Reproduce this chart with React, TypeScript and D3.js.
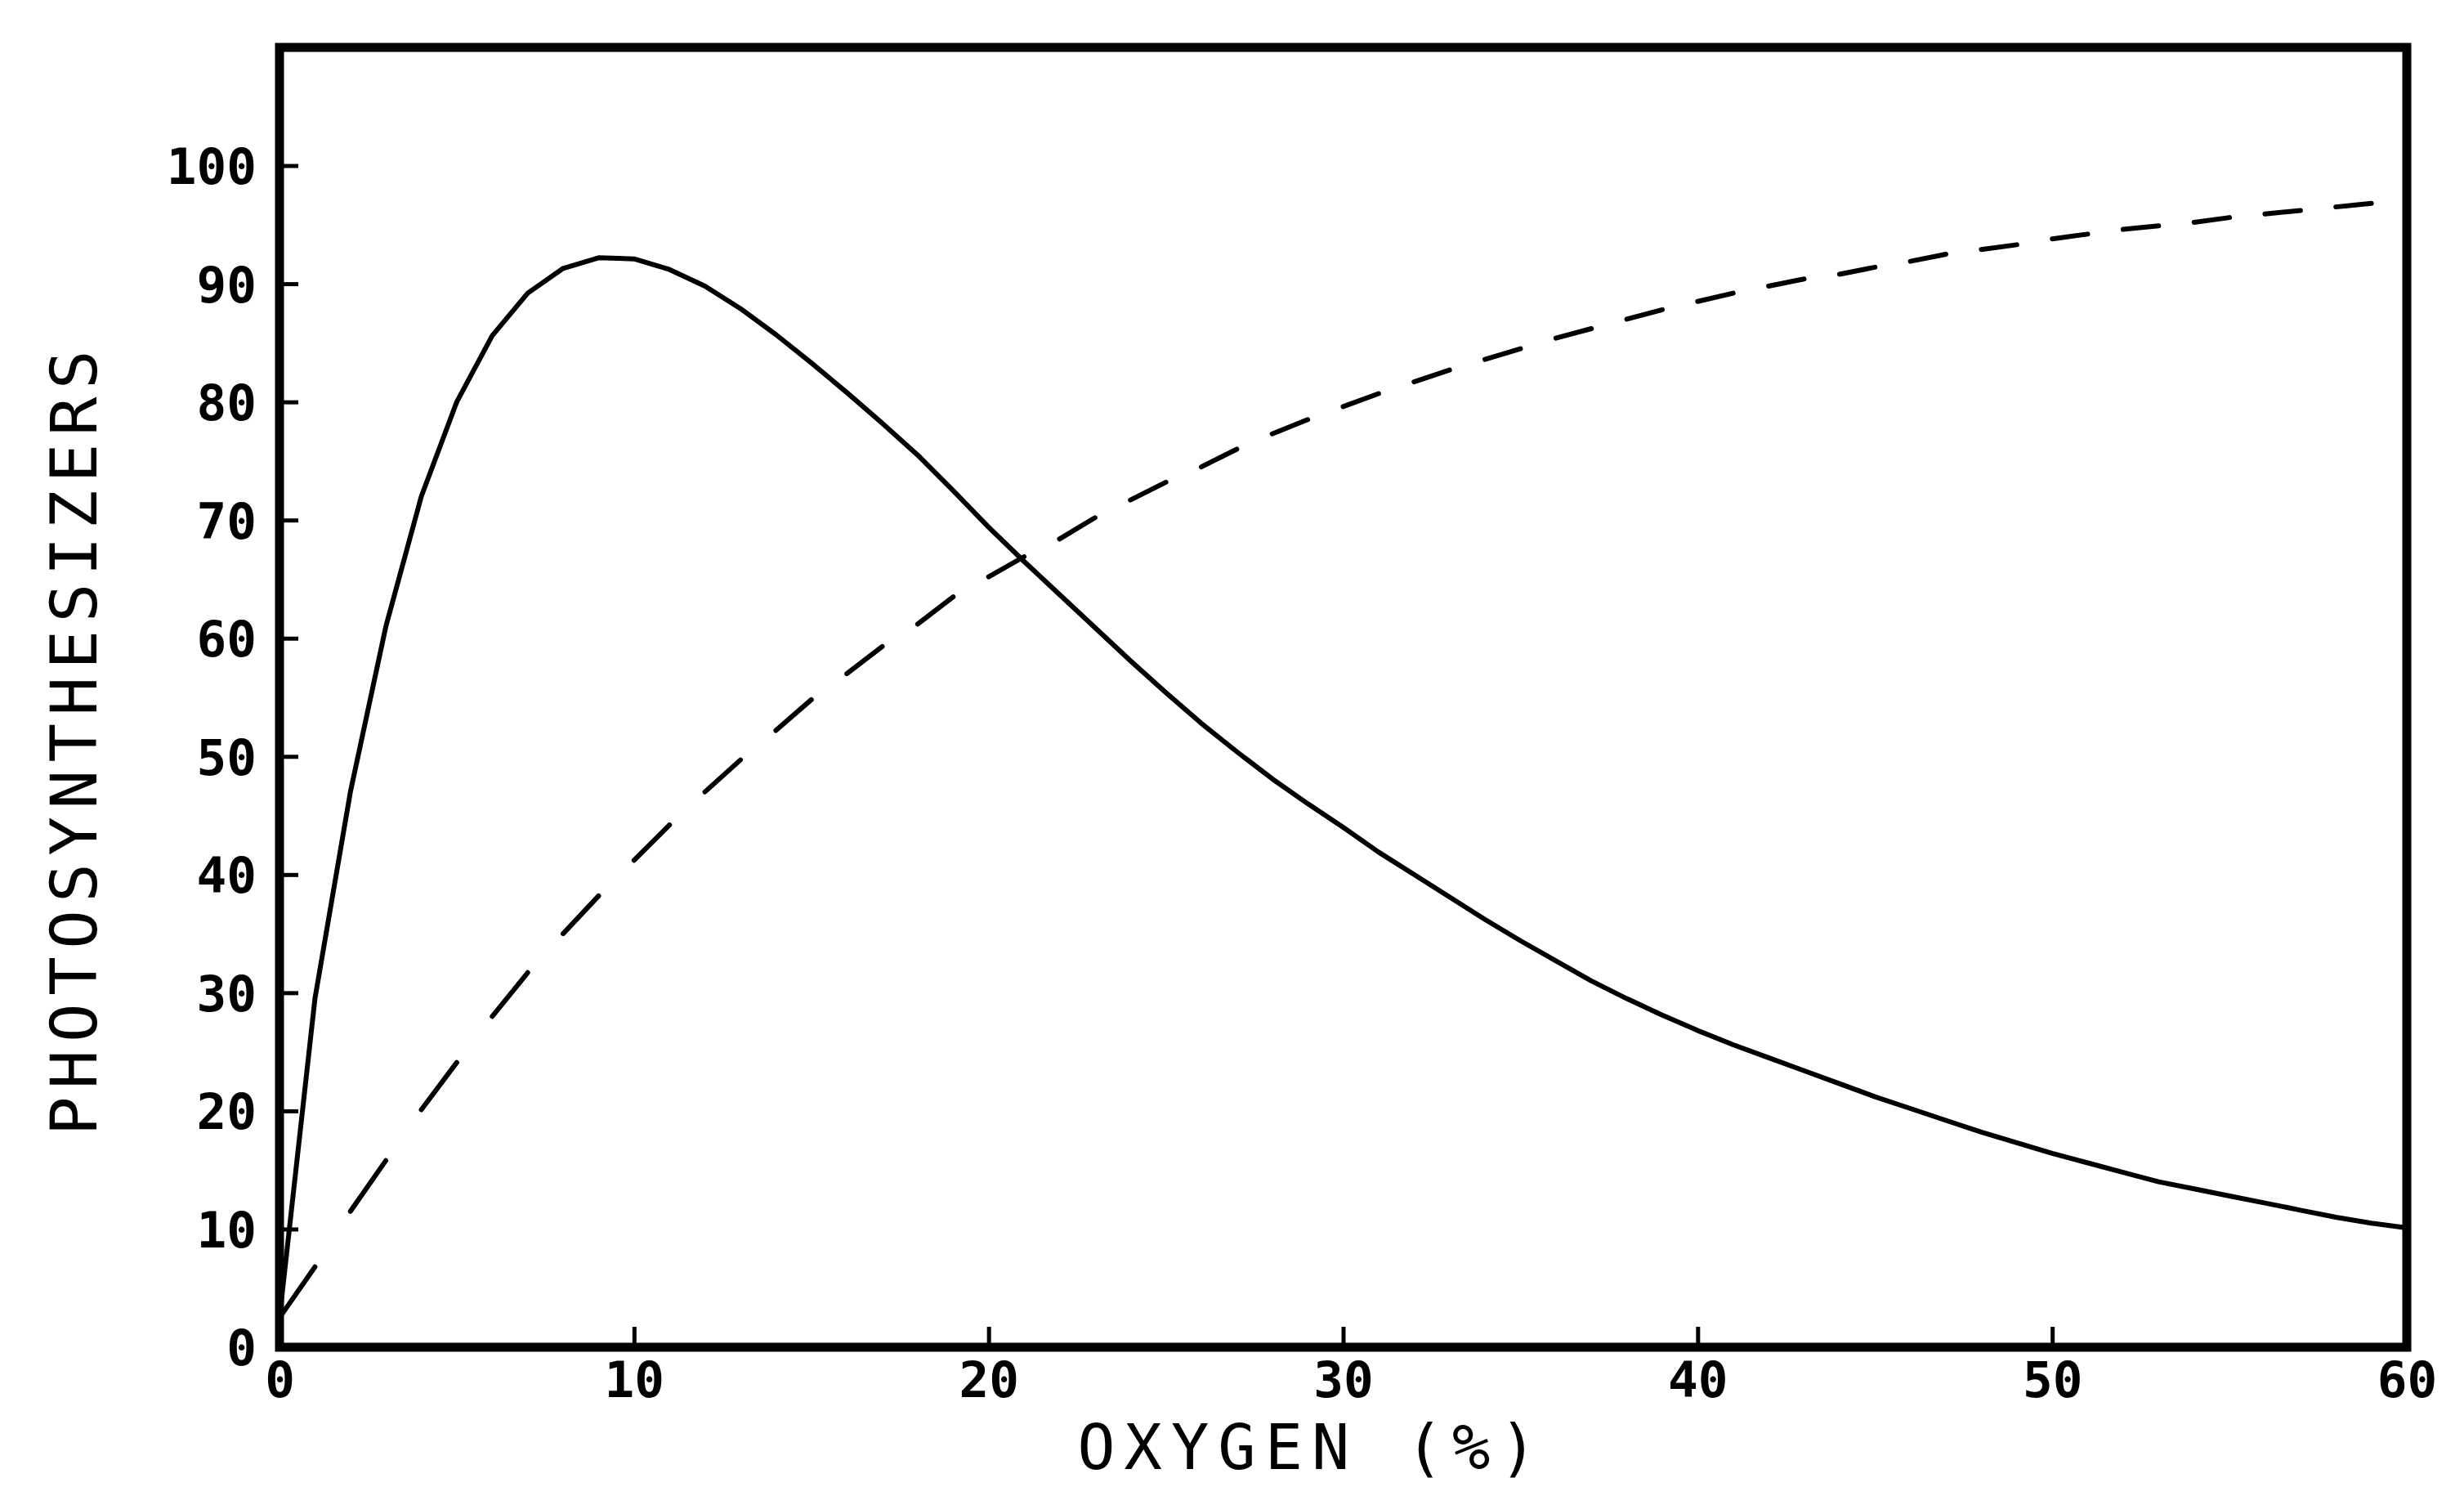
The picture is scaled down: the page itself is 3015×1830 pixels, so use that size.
import React, { useEffect, useRef } from "react";
import * as d3 from "d3";

// oxygen (%) sampled at every whole percent, 0..60
const oxygen: number[] = d3.range(0, 61);

// solid curve
const solidValues: number[] = [
  2.5, 29.5, 47, 61, 72, 80, 85.6, 89.2, 91.3, 92.2,
  92.1, 91.2, 89.8, 87.9, 85.7, 83.3, 80.8, 78.2, 75.5, 72.5,
  69.4, 66.5, 63.7, 60.9, 58.1, 55.4, 52.8, 50.4, 48.1, 46.0,
  44.0, 41.9, 40.0, 38.1, 36.2, 34.4, 32.7, 31.0, 29.5, 28.1,
  26.8, 25.6, 24.5, 23.4, 22.3, 21.2, 20.2, 19.2, 18.2, 17.3,
  16.4, 15.6, 14.8, 14.0, 13.4, 12.8, 12.2, 11.6, 11.0, 10.5, 10.1,
];

// dashed curve
const dashedValues: number[] = [
  2.5, 6.8, 11.5, 15.8, 20.1, 24.1, 28.0, 31.7, 35.0, 38.2,
  41.2, 44.2, 47.0, 49.7, 52.2, 54.8, 57.0, 59.3, 61.2, 63.5,
  65.2, 66.9, 68.4, 70.2, 71.7, 73.2, 74.5, 76.0, 77.3, 78.5,
  79.6, 80.7, 81.7, 82.7, 83.6, 84.5, 85.4, 86.2, 87.0, 87.8,
  88.5, 89.2, 89.8, 90.4, 90.8, 91.4, 91.9, 92.5, 92.9, 93.3,
  93.8, 94.2, 94.6, 94.9, 95.2, 95.6, 95.9, 96.2, 96.5, 96.8, 97.1,
];

const xTicks: number[] = [0, 10, 20, 30, 40, 50, 60];
const yTicks: number[] = [0, 10, 20, 30, 40, 50, 60, 70, 80, 90, 100];

const xTitle = "OXYGEN (%)";
const yTitle = "PHOTOSYNTHESIZERS";

export default function App() {
  const svgRef = useRef<SVGSVGElement | null>(null);

  useEffect(() => {
    if (!svgRef.current) return;
    const svg = d3.select(svgRef.current);
    svg.selectAll("*").remove();

    const width = 3015;
    const height = 1830;
    const left = 342;
    const right = 2945;
    const top = 58;
    const bottom = 1648;

    const x = d3.scaleLinear().domain([0, 60]).range([left, right]);
    const y = d3.scaleLinear().domain([0, 110]).range([bottom, top]);

    svg.attr("width", width).attr("height", height).attr("viewBox", `0 0 ${width} ${height}`);
    svg.append("rect").attr("width", width).attr("height", height).attr("fill", "#fff");

    const tickFont = "'DejaVu Sans Mono', 'Liberation Mono', monospace";

    // y axis, ticks pointing inward
    const yAxis = svg
      .append("g")
      .attr("transform", `translate(${left},0)`)
      .call(d3.axisLeft(y).tickValues(yTicks).tickSize(-23).tickPadding(28).tickFormat(d3.format("d")));
    yAxis.select(".domain").remove();
    yAxis.selectAll(".tick line").attr("stroke", "#000").attr("stroke-width", 5);
    yAxis
      .selectAll(".tick text")
      .attr("fill", "#000")
      .attr("dy", "0.36em")
      .style("font-family", tickFont)
      .style("font-weight", "bold")
      .style("font-size", "61px");

    // x axis
    const xAxis = svg
      .append("g")
      .attr("transform", `translate(0,${bottom})`)
      .call(d3.axisBottom(x).tickValues(xTicks).tickSize(-25).tickPadding(18).tickFormat(d3.format("d")));
    xAxis.select(".domain").remove();
    xAxis.selectAll(".tick line").attr("stroke", "#000").attr("stroke-width", 5);
    xAxis
      .selectAll(".tick text")
      .attr("fill", "#000")
      .attr("dy", "0.71em")
      .style("font-family", tickFont)
      .style("font-weight", "bold")
      .style("font-size", "61px");

    // frame
    svg
      .append("rect")
      .attr("x", left)
      .attr("y", top)
      .attr("width", right - left)
      .attr("height", bottom - top)
      .attr("fill", "none")
      .attr("stroke", "#000")
      .attr("stroke-width", 11);

    const line = d3
      .line<number>()
      .x((d, i) => x(oxygen[i]))
      .y((d) => y(d))
      .curve(d3.curveLinear);

    // solid curve
    svg
      .append("path")
      .attr("d", line(solidValues))
      .attr("fill", "none")
      .attr("stroke", "#000")
      .attr("stroke-width", 6)
      .attr("stroke-linejoin", "round");

    // dashed curve: every other segment between samples is drawn
    const segLine = d3
      .line<[number, number]>()
      .x((d) => x(d[0]))
      .y((d) => y(d[1]));
    const segments: [number, number][][] = [];
    for (let i = 0; i + 1 < oxygen.length; i += 2) {
      segments.push([
        [oxygen[i], dashedValues[i]],
        [oxygen[i + 1], dashedValues[i + 1]],
      ]);
    }
    svg
      .append("g")
      .selectAll("path")
      .data(segments)
      .enter()
      .append("path")
      .attr("d", (d) => segLine(d))
      .attr("fill", "none")
      .attr("stroke", "#000")
      .attr("stroke-width", 6)
      .attr("stroke-linecap", "round");

    // axis titles
    const titleFont = "'DejaVu Sans Mono', 'Liberation Mono', monospace";
    svg
      .append("text")
      .attr("x", 1600 + 5)
      .attr("y", 1797)
      .attr("text-anchor", "middle")
      .attr("fill", "#000")
      .style("font-family", titleFont)
      .style("font-size", "77px")
      .style("letter-spacing", "11px")
      .text(xTitle);

    svg
      .append("text")
      .attr("transform", `translate(118,${899 + 5}) rotate(-90)`)
      .attr("text-anchor", "middle")
      .attr("fill", "#000")
      .style("font-family", titleFont)
      .style("font-size", "79px")
      .style("letter-spacing", "9.5px")
      .text(yTitle);
  }, []);

  return (
    <div style={{ position: "absolute", left: 0, top: 0 }}>
      <svg ref={svgRef} style={{ display: "block" }}></svg>
    </div>
  );
}
